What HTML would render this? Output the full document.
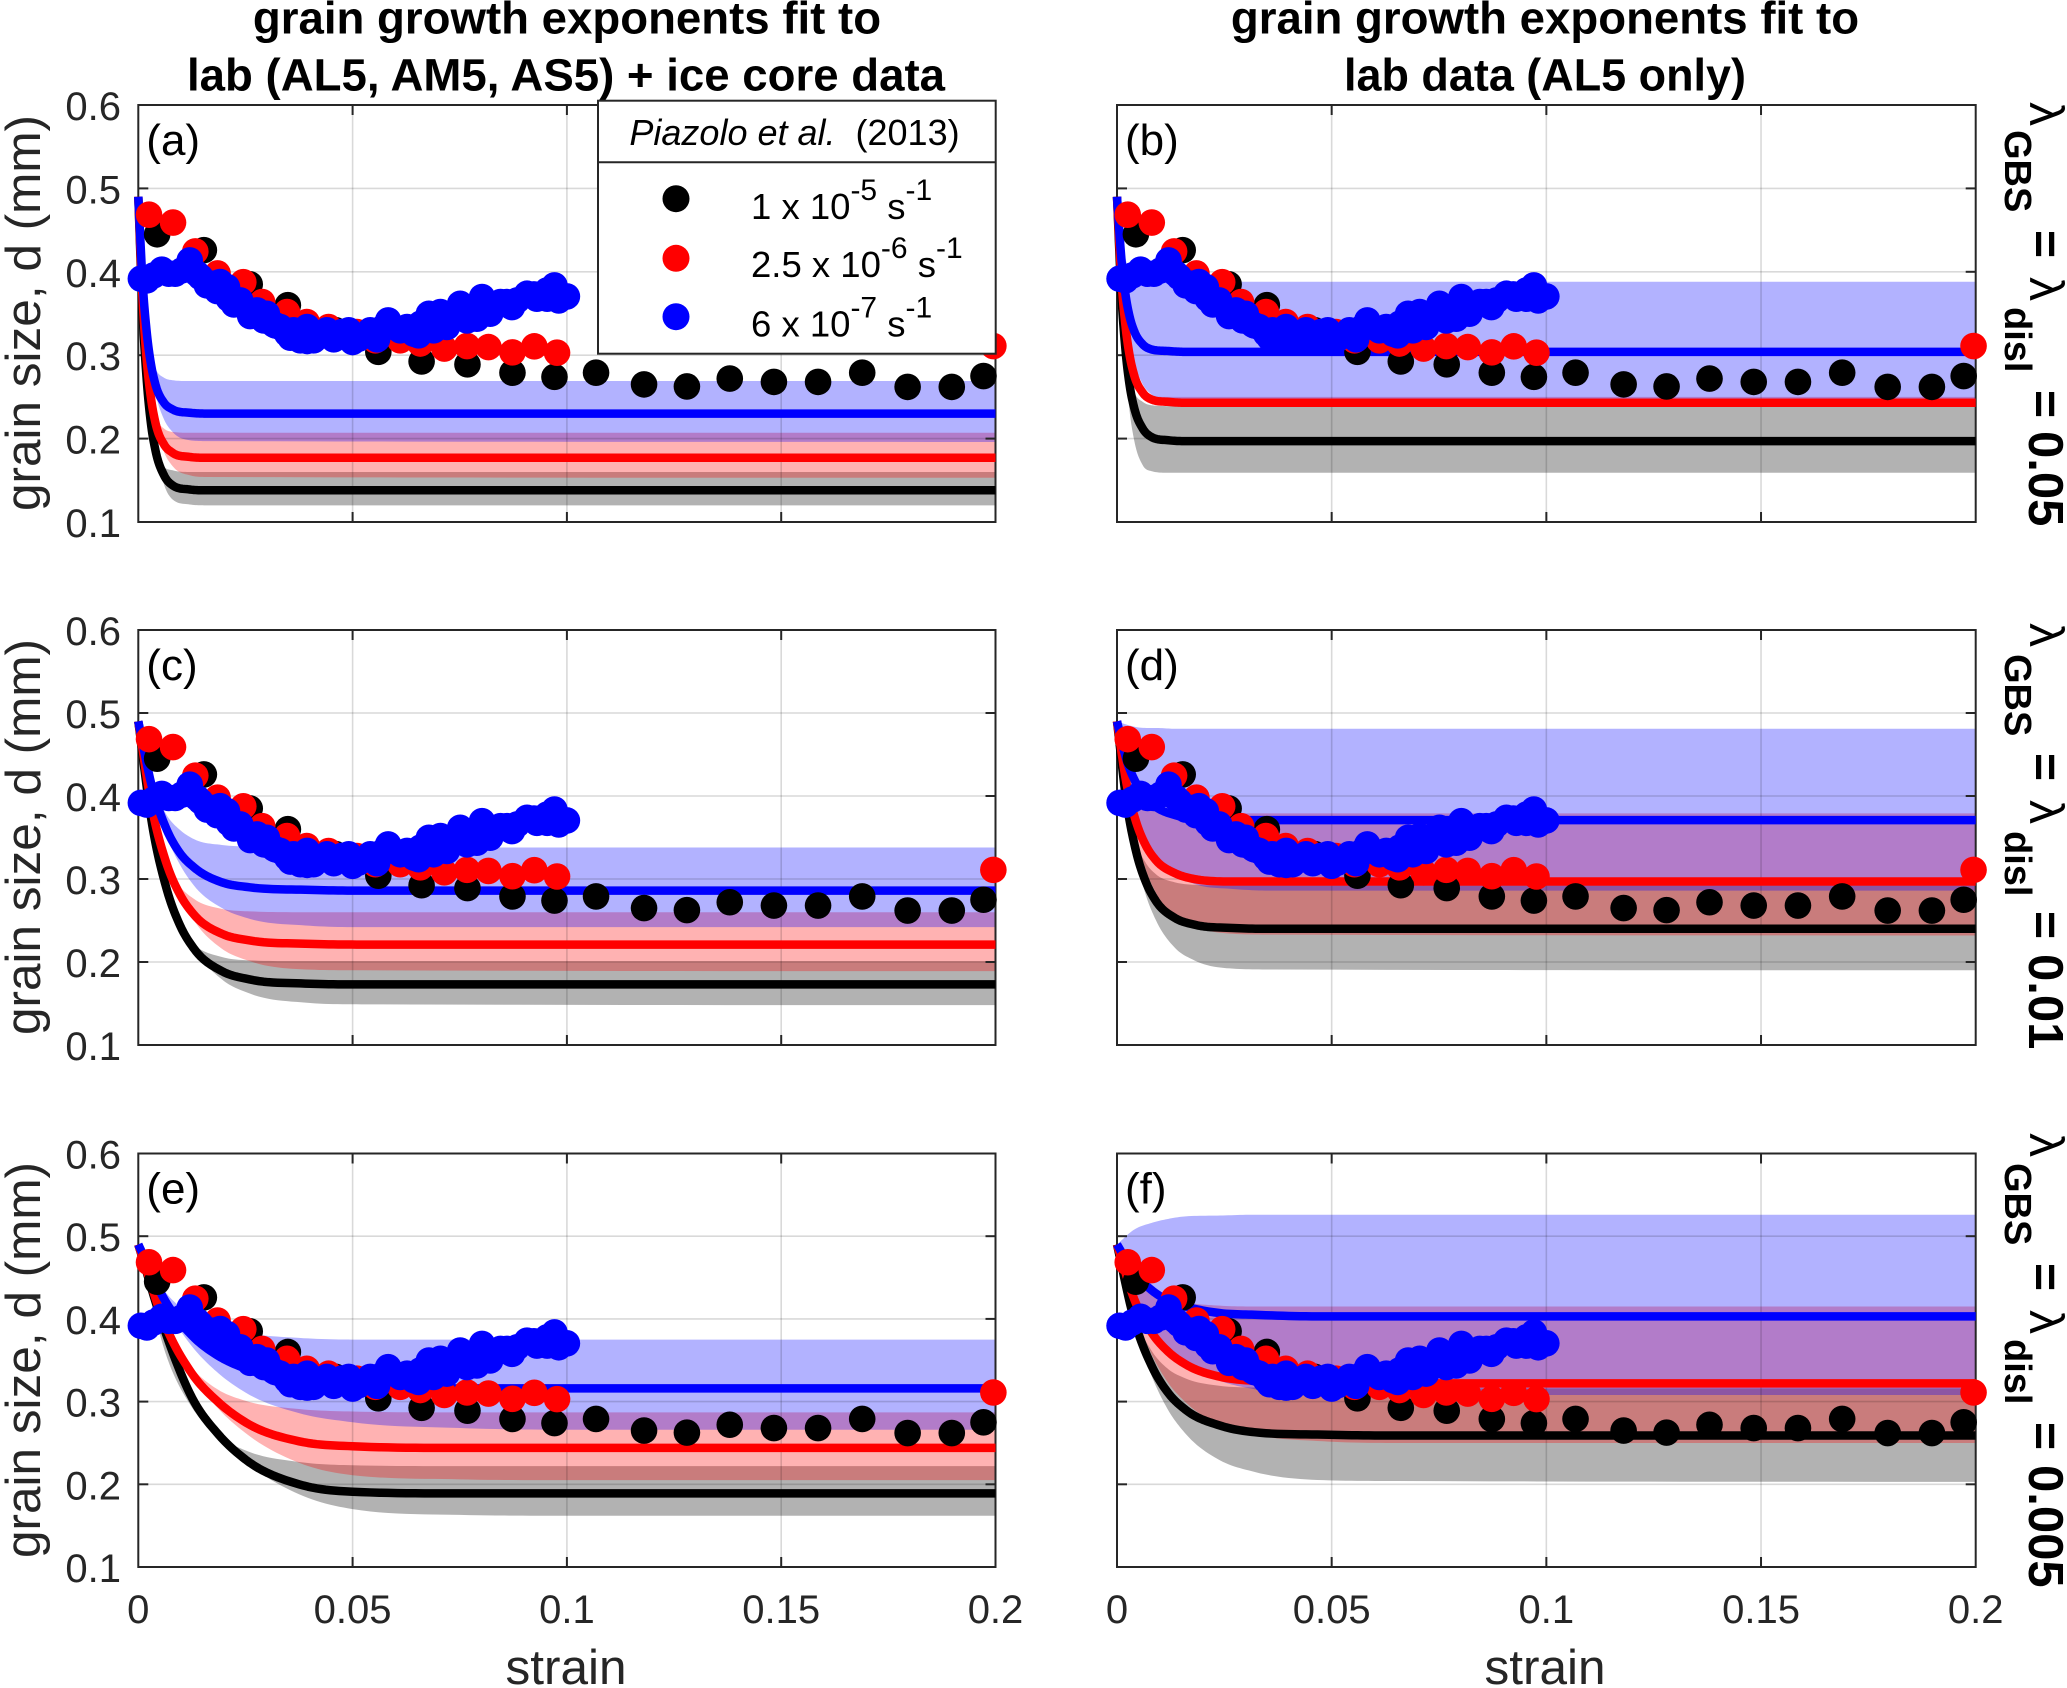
<!DOCTYPE html>
<html lang="en">
<head>
<meta charset="utf-8">
<title>Grain size versus strain</title>
<style>
html,body{margin:0;padding:0;background:#fff;}
svg{display:block;font-family:"Liberation Sans",sans-serif;}
</style>
</head>
<body>
<svg id="figure" xmlns="http://www.w3.org/2000/svg" width="2067" height="1688" viewBox="0 0 2067 1688">
  <rect x="0" y="0" width="2067" height="1688" fill="#fff"/>
  <g id="panels"></g>

  <g font-weight="bold" font-size="45.6" text-anchor="middle" fill="#000">
    <text x="567" y="33.5">grain growth exponents fit to</text>
    <text x="566" y="90.5">lab (AL5, AM5, AS5) + ice core data</text>
  </g>
  <g font-weight="bold" font-size="45.6" text-anchor="middle" fill="#000">
    <text x="1545" y="33.5">grain growth exponents fit to</text>
    <text x="1545" y="90.5" textLength="402" lengthAdjust="spacingAndGlyphs">lab data (AL5 only)</text>
  </g>

  <g font-size="49.5" text-anchor="middle" fill="#262626">
    <text transform="translate(40,313) rotate(-90)">grain size, d (mm)</text>
    <text transform="translate(40,837) rotate(-90)">grain size, d (mm)</text>
    <text transform="translate(40,1360) rotate(-90)">grain size, d (mm)</text>
  </g>
  <g font-size="49.5" text-anchor="middle" fill="#262626">
    <text x="566" y="1684">strain</text>
    <text x="1545" y="1684">strain</text>
  </g>

  <g fill="#000">
    <text transform="translate(2030,102) rotate(90)" font-size="48">λ</text>
    <text transform="translate(2005,130) rotate(90)" font-size="38" font-weight="bold">GBS</text>
    <text transform="translate(2029,230) rotate(90)" font-size="48" font-weight="bold">=</text>
    <text transform="translate(2030,277) rotate(90)" font-size="48">λ</text>
    <text transform="translate(2005,307) rotate(90)" font-size="38" font-weight="bold">disl</text>
    <text transform="translate(2029,390) rotate(90)" font-size="48" font-weight="bold">=</text>
    <text transform="translate(2029,431) rotate(90)" font-size="49" font-weight="bold">0.05</text>
  </g>
  <g fill="#000">
    <text transform="translate(2030,623) rotate(90)" font-size="48">λ</text>
    <text transform="translate(2005,654) rotate(90)" font-size="38" font-weight="bold">GBS</text>
    <text transform="translate(2029,753) rotate(90)" font-size="48" font-weight="bold">=</text>
    <text transform="translate(2030,800) rotate(90)" font-size="48">λ</text>
    <text transform="translate(2005,831) rotate(90)" font-size="38" font-weight="bold">disl</text>
    <text transform="translate(2029,911) rotate(90)" font-size="48" font-weight="bold">=</text>
    <text transform="translate(2029,954) rotate(90)" font-size="49" font-weight="bold">0.01</text>
  </g>
  <g fill="#000">
    <text transform="translate(2030,1133) rotate(90)" font-size="48">λ</text>
    <text transform="translate(2005,1163) rotate(90)" font-size="38" font-weight="bold">GBS</text>
    <text transform="translate(2029,1263) rotate(90)" font-size="48" font-weight="bold">=</text>
    <text transform="translate(2030,1310) rotate(90)" font-size="48">λ</text>
    <text transform="translate(2005,1339) rotate(90)" font-size="38" font-weight="bold">disl</text>
    <text transform="translate(2029,1422) rotate(90)" font-size="48" font-weight="bold">=</text>
    <text transform="translate(2029,1465) rotate(90)" font-size="49" font-weight="bold">0.005</text>
  </g>

  <g>
    <rect x="598" y="100.7" width="397.7" height="253" fill="#fff" stroke="#262626" stroke-width="2"/>
    <line x1="598" y1="162.3" x2="995.7" y2="162.3" stroke="#262626" stroke-width="2"/>
    <text x="794.5" y="145" text-anchor="middle" font-size="36" fill="#000" xml:space="preserve"><tspan font-style="italic">Piazolo et al.</tspan>  (2013)</text>
    <circle cx="676" cy="198.7" r="13.5" fill="#000"/>
    <circle cx="676" cy="258.3" r="13.5" fill="#f00"/>
    <circle cx="676" cy="316.7" r="13.5" fill="#00f"/>
    <text x="751" y="219" font-size="36.5" fill="#000">1 x 10<tspan font-size="30" dy="-19">-5</tspan><tspan dy="19"> s</tspan><tspan font-size="30" dy="-19">-1</tspan></text>
    <text x="751" y="277" font-size="36.5" fill="#000">2.5 x 10<tspan font-size="30" dy="-19">-6</tspan><tspan dy="19"> s</tspan><tspan font-size="30" dy="-19">-1</tspan></text>
    <text x="751" y="336.7" font-size="36.5" fill="#000">6 x 10<tspan font-size="30" dy="-19">-7</tspan><tspan dy="19"> s</tspan><tspan font-size="30" dy="-19">-1</tspan></text>
  </g>
</svg>

<script>
// ---- axis ticks ----
const xTickValues = [0, 0.05, 0.1, 0.15, 0.2];
const xTickLabels = ['0', '0.05', '0.1', '0.15', '0.2'];
const yTickValues = [0.1, 0.2, 0.3, 0.4, 0.5, 0.6];
const yTickLabels = ['0.1', '0.2', '0.3', '0.4', '0.5', '0.6'];
const panelLetters = ['(a)', '(b)', '(c)', '(d)', '(e)', '(f)'];

// ---- measured grain size: 1e-5 s^-1 ----
const blackStrain = [0.0044, 0.0153, 0.026, 0.0349, 0.046, 0.056, 0.0661, 0.0768, 0.0873, 0.0971, 0.1068, 0.118, 0.128, 0.138, 0.1483, 0.1586, 0.1689, 0.1795, 0.1898, 0.1972];
const blackSize = [0.445, 0.426, 0.385, 0.36, 0.33, 0.304, 0.2925, 0.289, 0.279, 0.274, 0.279, 0.265, 0.2625, 0.272, 0.268, 0.268, 0.279, 0.262, 0.262, 0.275];

// ---- measured grain size: 2.5e-6 s^-1 ----
const redStrain = [0.0025, 0.0081, 0.0133, 0.0185, 0.0245, 0.0289, 0.0347, 0.0393, 0.0444, 0.051, 0.0553, 0.0611, 0.0658, 0.0714, 0.0767, 0.0817, 0.0873, 0.0924, 0.0977, 0.1995];
const redSize = [0.4685, 0.459, 0.4245, 0.398, 0.3876, 0.3637, 0.3517, 0.3397, 0.3337, 0.3277, 0.3178, 0.3178, 0.314, 0.308, 0.311, 0.3097, 0.3034, 0.3106, 0.303, 0.311];

// ---- measured grain size: 6e-7 s^-1 ----
const blueStrain = [0.0006, 0.002, 0.0036, 0.0055, 0.0071, 0.0086, 0.0102, 0.012, 0.0137, 0.0145, 0.016, 0.0176, 0.0184, 0.0191, 0.0207, 0.0211, 0.0223, 0.023, 0.0238, 0.0261, 0.0261, 0.0277, 0.0293, 0.03, 0.0316, 0.032, 0.0331, 0.0347, 0.0355, 0.0362, 0.0378, 0.0394, 0.0394, 0.0409, 0.0417, 0.0429, 0.044, 0.0456, 0.0456, 0.0475, 0.0491, 0.05, 0.0514, 0.0526, 0.0541, 0.0557, 0.0557, 0.0573, 0.0583, 0.0596, 0.0611, 0.0627, 0.0643, 0.065, 0.0654, 0.0658, 0.0678, 0.0689, 0.0689, 0.0705, 0.072, 0.072, 0.0736, 0.0751, 0.0767, 0.0767, 0.079, 0.0802, 0.0821, 0.0821, 0.0845, 0.086, 0.0868, 0.0872, 0.0884, 0.0907, 0.0923, 0.093, 0.0954, 0.0954, 0.0971, 0.0981, 0.1];
const blueSize = [0.3917, 0.3897, 0.3957, 0.4025, 0.3977, 0.3977, 0.4017, 0.4137, 0.3977, 0.3937, 0.3837, 0.3857, 0.3769, 0.3877, 0.3817, 0.3677, 0.3609, 0.3617, 0.3657, 0.3517, 0.3469, 0.3537, 0.3417, 0.3497, 0.3369, 0.3357, 0.3338, 0.3258, 0.321, 0.3298, 0.3178, 0.3338, 0.317, 0.3178, 0.3218, 0.3258, 0.3298, 0.3198, 0.319, 0.3278, 0.3298, 0.3158, 0.3198, 0.3238, 0.3298, 0.3238, 0.319, 0.3338, 0.3417, 0.3338, 0.3298, 0.3338, 0.3258, 0.325, 0.3238, 0.3377, 0.3497, 0.3457, 0.3298, 0.3517, 0.3338, 0.3349, 0.3497, 0.3617, 0.3537, 0.3417, 0.3437, 0.3697, 0.3617, 0.3497, 0.3637, 0.3637, 0.3589, 0.3577, 0.3657, 0.3737, 0.3729, 0.3677, 0.3777, 0.3677, 0.3837, 0.3657, 0.3705];

// ---- panel (a) model curves ----
const strainA = [0, 0.001, 0.002, 0.003, 0.004, 0.006, 0.008, 0.012, 0.016, 0.2];
const aBlackLine = [0.49, 0.352, 0.268, 0.216, 0.186, 0.156, 0.144, 0.139, 0.138, 0.138];
const aBlackLow = [0.49, 0.365, 0.28, 0.225, 0.19, 0.145, 0.127, 0.121, 0.12, 0.12];
const aBlackHigh = [0.49, 0.329, 0.247, 0.205, 0.183, 0.166, 0.162, 0.16, 0.16, 0.16];
const aRedLine = [0.49, 0.367, 0.292, 0.247, 0.219, 0.193, 0.183, 0.178, 0.177, 0.177];
const aRedLow = [0.49, 0.379, 0.304, 0.254, 0.221, 0.184, 0.167, 0.156, 0.154, 0.153];
const aRedHigh = [0.49, 0.352, 0.282, 0.245, 0.226, 0.212, 0.208, 0.207, 0.207, 0.207];
const aBlueLine = [0.49, 0.388, 0.326, 0.288, 0.265, 0.243, 0.235, 0.231, 0.23, 0.23];
const aBlueLow = [0.49, 0.393, 0.328, 0.284, 0.255, 0.223, 0.208, 0.198, 0.197, 0.196];
const aBlueHigh = [0.49, 0.383, 0.327, 0.299, 0.284, 0.273, 0.27, 0.269, 0.269, 0.269];

// ---- panel (b) model curves ----
const strainB = [0, 0.001, 0.002, 0.003, 0.004, 0.006, 0.008, 0.012, 0.016, 0.2];
const bBlackLine = [0.49, 0.375, 0.305, 0.262, 0.237, 0.212, 0.202, 0.198, 0.197, 0.197];
const bBlackLow = [0.49, 0.37, 0.285, 0.23, 0.198, 0.168, 0.161, 0.159, 0.159, 0.159];
const bBlackHigh = [0.49, 0.368, 0.305, 0.273, 0.256, 0.244, 0.24, 0.239, 0.239, 0.239];
const bRedLine = [0.49, 0.393, 0.334, 0.298, 0.276, 0.255, 0.247, 0.244, 0.243, 0.243];
const bRedLow = [0.49, 0.407, 0.351, 0.314, 0.289, 0.261, 0.248, 0.24, 0.239, 0.238];
const bRedHigh = [0.49, 0.373, 0.313, 0.282, 0.267, 0.254, 0.251, 0.25, 0.25, 0.25];
const bBlueLine = [0.49, 0.417, 0.372, 0.345, 0.329, 0.313, 0.307, 0.305, 0.304, 0.304];
const bBlueLow = [0.49, 0.408, 0.354, 0.317, 0.293, 0.265, 0.253, 0.245, 0.243, 0.243];
const bBlueHigh = [0.49, 0.44, 0.415, 0.402, 0.395, 0.39, 0.389, 0.388, 0.388, 0.388];

// ---- panel (c) model curves ----
const strainC = [0, 0.00325, 0.0065, 0.00975, 0.013, 0.0195, 0.026, 0.039, 0.052, 0.2];
const cBlackLine = [0.49, 0.365, 0.29, 0.244, 0.216, 0.189, 0.179, 0.174, 0.173, 0.173];
const cBlackLow = [0.49, 0.377, 0.301, 0.251, 0.217, 0.179, 0.162, 0.151, 0.149, 0.148];
const cBlackHigh = [0.49, 0.349, 0.277, 0.24, 0.221, 0.206, 0.202, 0.201, 0.201, 0.201];
const cRedLine = [0.49, 0.384, 0.32, 0.281, 0.257, 0.234, 0.226, 0.222, 0.221, 0.221];
const cRedLow = [0.49, 0.391, 0.324, 0.28, 0.25, 0.216, 0.201, 0.191, 0.19, 0.189];
const cRedHigh = [0.49, 0.378, 0.321, 0.291, 0.276, 0.264, 0.261, 0.26, 0.26, 0.26];
const cBlueLine = [0.49, 0.41, 0.361, 0.331, 0.314, 0.296, 0.29, 0.287, 0.286, 0.286];
const cBlueLow = [0.49, 0.408, 0.353, 0.317, 0.292, 0.265, 0.252, 0.244, 0.242, 0.242];
const cBlueHigh = [0.49, 0.416, 0.378, 0.359, 0.348, 0.341, 0.339, 0.338, 0.338, 0.338];

// ---- panel (d) model curves ----
const strainD = [0, 0.00225, 0.0045, 0.00675, 0.009, 0.0135, 0.018, 0.027, 0.036, 0.2];
const dBlackLine = [0.49, 0.392, 0.332, 0.296, 0.274, 0.253, 0.245, 0.241, 0.24, 0.24];
const dBlackLow = [0.49, 0.391, 0.325, 0.28, 0.251, 0.217, 0.202, 0.192, 0.191, 0.19];
const dBlackHigh = [0.49, 0.394, 0.344, 0.319, 0.306, 0.296, 0.293, 0.292, 0.292, 0.292];
const dRedLine = [0.49, 0.414, 0.368, 0.34, 0.323, 0.307, 0.3, 0.297, 0.297, 0.297];
const dRedLow = [0.49, 0.405, 0.348, 0.31, 0.284, 0.256, 0.243, 0.234, 0.233, 0.232];
const dRedHigh = [0.49, 0.436, 0.408, 0.394, 0.387, 0.381, 0.38, 0.379, 0.379, 0.379];
const dBlueLine = [0.49, 0.443, 0.415, 0.397, 0.387, 0.377, 0.373, 0.371, 0.371, 0.371];
const dBlueLow = [0.49, 0.423, 0.378, 0.347, 0.327, 0.305, 0.294, 0.288, 0.286, 0.286];
const dBlueHigh = [0.49, 0.486, 0.483, 0.482, 0.482, 0.481, 0.481, 0.481, 0.481, 0.481];

// ---- panel (e) model curves ----
const strainE = [0, 0.00625, 0.0125, 0.01875, 0.025, 0.0375, 0.05, 0.075, 0.1, 0.2];
const eBlackLine = [0.49, 0.385, 0.305, 0.26, 0.23, 0.2, 0.191, 0.189, 0.189, 0.189];
const eBlackLow = [0.49, 0.381, 0.309, 0.261, 0.228, 0.188, 0.17, 0.163, 0.162, 0.162];
const eBlackHigh = [0.49, 0.36, 0.293, 0.258, 0.241, 0.227, 0.223, 0.222, 0.222, 0.222];
const eRedLine = [0.49, 0.393, 0.334, 0.299, 0.275, 0.252, 0.246, 0.244, 0.244, 0.244];
const eRedLow = [0.49, 0.396, 0.333, 0.291, 0.262, 0.226, 0.211, 0.206, 0.205, 0.205];
const eRedHigh = [0.49, 0.391, 0.341, 0.314, 0.301, 0.291, 0.288, 0.287, 0.287, 0.287];
const eBlueLine = [0.49, 0.422, 0.38, 0.355, 0.34, 0.325, 0.319, 0.316, 0.316, 0.316];
const eBlueLow = [0.49, 0.416, 0.367, 0.334, 0.311, 0.286, 0.275, 0.268, 0.266, 0.266];
const eBlueHigh = [0.49, 0.433, 0.405, 0.39, 0.383, 0.377, 0.375, 0.375, 0.375, 0.375];

// ---- panel (f) model curves ----
const strainF = [0, 0.004, 0.008, 0.012, 0.016, 0.024, 0.032, 0.048, 0.064, 0.2];
const fBlackLine = [0.49, 0.399, 0.344, 0.31, 0.29, 0.271, 0.263, 0.26, 0.259, 0.259];
const fBlackLow = [0.49, 0.395, 0.332, 0.289, 0.261, 0.229, 0.215, 0.205, 0.204, 0.203];
const fBlackHigh = [0.49, 0.405, 0.362, 0.339, 0.328, 0.319, 0.317, 0.316, 0.316, 0.316];
const fRedLine = [0.49, 0.424, 0.384, 0.36, 0.345, 0.33, 0.325, 0.322, 0.322, 0.322];
const fRedLow = [0.49, 0.411, 0.358, 0.322, 0.299, 0.272, 0.26, 0.252, 0.25, 0.25];
const fRedHigh = [0.49, 0.454, 0.435, 0.425, 0.42, 0.416, 0.415, 0.415, 0.415, 0.415];
const fBlueLine = [0.49, 0.456, 0.435, 0.422, 0.415, 0.407, 0.405, 0.403, 0.403, 0.403];
const fBlueLow = [0.49, 0.43, 0.39, 0.363, 0.345, 0.325, 0.315, 0.309, 0.308, 0.308];
const fBlueHigh = [0.49, 0.508, 0.516, 0.521, 0.524, 0.525, 0.526, 0.526, 0.526, 0.526];

// ---- grouping ----
const panelCurves = [
  { strain: strainA, black: [aBlackLine, aBlackLow, aBlackHigh], red: [aRedLine, aRedLow, aRedHigh], blue: [aBlueLine, aBlueLow, aBlueHigh] },
  { strain: strainB, black: [bBlackLine, bBlackLow, bBlackHigh], red: [bRedLine, bRedLow, bRedHigh], blue: [bBlueLine, bBlueLow, bBlueHigh] },
  { strain: strainC, black: [cBlackLine, cBlackLow, cBlackHigh], red: [cRedLine, cRedLow, cRedHigh], blue: [cBlueLine, cBlueLow, cBlueHigh] },
  { strain: strainD, black: [dBlackLine, dBlackLow, dBlackHigh], red: [dRedLine, dRedLow, dRedHigh], blue: [dBlueLine, dBlueLow, dBlueHigh] },
  { strain: strainE, black: [eBlackLine, eBlackLow, eBlackHigh], red: [eRedLine, eRedLow, eRedHigh], blue: [eBlueLine, eBlueLow, eBlueHigh] },
  { strain: strainF, black: [fBlackLine, fBlackLow, fBlackHigh], red: [fRedLine, fRedLow, fRedHigh], blue: [fBlueLine, fBlueLow, fBlueHigh] }
];

// ---- layout ----
const colLeft = [138.3, 1117];
const colRight = [995.5, 1975.7];
const rowTop = [105, 630, 1153.5];
const rowBottom = [522, 1045, 1567];
const xMin = 0, xMax = 0.2, yMin = 0.1, yMax = 0.6;
const NS = 'http://www.w3.org/2000/svg';
const root = document.getElementById('panels');

function make(tag, attrs, parent, text) {
  const node = document.createElementNS(NS, tag);
  for (const k in attrs) node.setAttribute(k, attrs[k]);
  if (text !== undefined) node.textContent = text;
  parent.appendChild(node);
  return node;
}

// monotone cubic sampling so curve samples render smoothly
function smooth(xs, ys) {
  const n = xs.length, dx = [], m = [], t = [];
  for (let i = 0; i < n - 1; i++) { dx[i] = xs[i + 1] - xs[i]; m[i] = (ys[i + 1] - ys[i]) / dx[i]; }
  t[0] = m[0]; t[n - 1] = 0;
  for (let i = 1; i < n - 1; i++) {
    if (m[i - 1] * m[i] <= 0) { t[i] = 0; continue; }
    const d = (dx[i] * m[i - 1] + dx[i - 1] * m[i]) / (dx[i - 1] + dx[i]);
    const limit = 3 * Math.min(Math.abs(m[i - 1]), Math.abs(m[i]));
    t[i] = Math.sign(d) * Math.min(Math.abs(d), limit);
  }
  const pts = [];
  for (let i = 0; i < n - 1; i++) {
    for (let j = 0; j < 12; j++) {
      const s = j / 12, s2 = s * s, s3 = s2 * s;
      const y = (2 * s3 - 3 * s2 + 1) * ys[i] + (s3 - 2 * s2 + s) * dx[i] * t[i] + (-2 * s3 + 3 * s2) * ys[i + 1] + (s3 - s2) * dx[i] * t[i + 1];
      pts.push([xs[i] + s * dx[i], y]);
    }
  }
  pts.push([xs[n - 1], ys[n - 1]]);
  return pts;
}

function toPath(pts) {
  return pts.map((p, i) => (i ? 'L' : 'M') + p[0].toFixed(2) + ' ' + p[1].toFixed(2)).join('');
}

const seriesColors = { black: '#000000', red: '#ff0000', blue: '#0000ff' };
const seriesOrder = ['black', 'red', 'blue'];

panelCurves.forEach(function (panel, idx) {
  const col = idx % 2, row = Math.floor(idx / 2);
  const L = colLeft[col], R = colRight[col], T = rowTop[row], B = rowBottom[row];
  const xAxis = v => L + (v - xMin) / (xMax - xMin) * (R - L);
  const yAxis = v => B - (v - yMin) / (yMax - yMin) * (B - T);
  const letter = 'abcdef'[idx];

  const g = make('g', {}, root);
  
  

  // uncertainty bands
  seriesOrder.forEach(function (name) {
    const px = panel.strain.map(xAxis);
    const lo = smooth(px, panel[name][1].map(yAxis));
    const hi = smooth(px, panel[name][2].map(yAxis));
    const band = make('path', { d: toPath(hi) + toPath(lo.slice().reverse()).replace('M', 'L') + 'Z', fill: seriesColors[name], 'fill-opacity': 0.3 }, g);
    
    
  });

  // grid
  xTickValues.slice(1, -1).forEach(function (v) {
    const gridX = make('line', { x1: xAxis(v), x2: xAxis(v), y1: T, y2: B, stroke: '#000', 'stroke-opacity': 0.15, 'stroke-width': 1.6 }, g);
    
    
  });
  yTickValues.slice(1, -1).forEach(function (v) {
    const gridY = make('line', { x1: L, x2: R, y1: yAxis(v), y2: yAxis(v), stroke: '#000', 'stroke-opacity': 0.15, 'stroke-width': 1.6 }, g);
    
    
  });

  // frame
  const frame = make('rect', { x: L, y: T, width: R - L, height: B - T, fill: 'none', stroke: '#262626', 'stroke-width': 2 }, g);
  
  

  // ticks
  xTickValues.slice(1, -1).forEach(function (v) {
    const tickBottom = make('line', { x1: xAxis(v), x2: xAxis(v), y1: B, y2: B - 10, stroke: '#262626', 'stroke-width': 2 }, g);
    
    
    const tickTop = make('line', { x1: xAxis(v), x2: xAxis(v), y1: T, y2: T + 10, stroke: '#262626', 'stroke-width': 2 }, g);
    
    
  });
  yTickValues.slice(1, -1).forEach(function (v) {
    const tickLeft = make('line', { x1: L, x2: L + 10, y1: yAxis(v), y2: yAxis(v), stroke: '#262626', 'stroke-width': 2 }, g);
    
    
    const tickRight = make('line', { x1: R, x2: R - 10, y1: yAxis(v), y2: yAxis(v), stroke: '#262626', 'stroke-width': 2 }, g);
    
    
  });

  // tick labels
  if (col === 0) {
    yTickValues.forEach(function (v, i) {
      const ylab = make('text', { x: 121, y: yAxis(v) + 15, 'text-anchor': 'end', 'font-size': 40, fill: '#262626' }, g, yTickLabels[i]);
      
      
    });
  }
  if (row === 2) {
    xTickValues.forEach(function (v, i) {
      const xlab = make('text', { x: xAxis(v), y: 1623, 'text-anchor': 'middle', 'font-size': 40, fill: '#262626' }, g, xTickLabels[i]);
      
      
    });
  }

  // model lines
  seriesOrder.forEach(function (name) {
    const pts = smooth(panel.strain.map(xAxis), panel[name][0].map(yAxis));
    const line = make('path', { d: toPath(pts), fill: 'none', stroke: seriesColors[name], 'stroke-width': 8.5, 'stroke-linejoin': 'round' }, g);
    
    
  });

  // measured points
  function drawDots(strain, size, color, label) {
    strain.forEach(function (v, i) {
      const dot = make('circle', { cx: xAxis(v), cy: yAxis(size[i]), r: 13.3, fill: color }, g);
      
      
    });
  }
  drawDots(blackStrain, blackSize, seriesColors.black, 'black');
  drawDots(redStrain, redSize, seriesColors.red, 'red');
  drawDots(blueStrain, blueSize, seriesColors.blue, 'blue');

  // panel letter
  const tag = make('text', { x: L + 8, y: T + 50, 'font-size': 44, fill: '#000' }, g, panelLetters[idx]);
  
  
});
</script>
</body>
</html>
